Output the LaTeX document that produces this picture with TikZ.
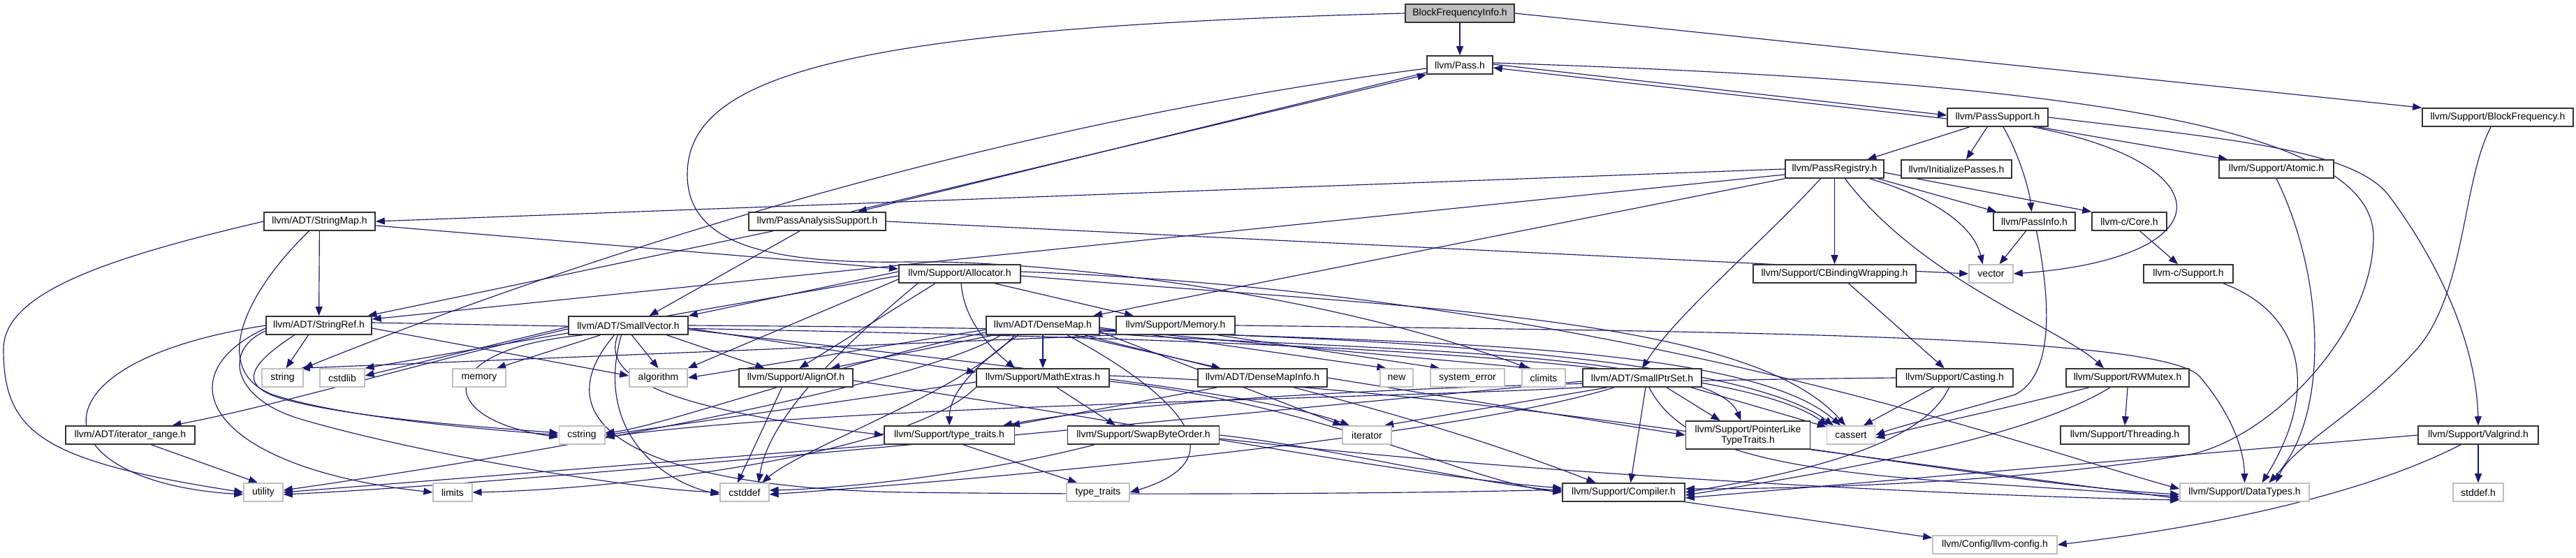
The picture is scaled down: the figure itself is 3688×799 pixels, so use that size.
\documentclass[tikz,border=0pt]{standalone}
\usepackage{fontspec}
\setmainfont{Liberation Sans}
\usetikzlibrary{arrows.meta,backgrounds}
\definecolor{edgec}{HTML}{191970}
\definecolor{sysc}{HTML}{BFBFBF}
\definecolor{boxc}{HTML}{333333}
\definecolor{rootc}{HTML}{BFBFBF}
\tikzset{
  box/.style={draw=boxc, fill=white, line width=1.6pt, minimum height=26pt, inner sep=0pt, font=\fontsize{14}{15}\selectfont},
  sys/.style={box, draw=sysc},
  root/.style={box, fill=rootc},
  e/.style={draw=edgec, line width=1.15pt, -{Triangle[length=13pt,width=10pt]}},
}
\begin{document}
\begin{tikzpicture}[x=1pt,y=-1pt]
\useasboundingbox (0,0) rectangle (3688,799);
% row 0-2
\node[root, minimum width=156] (bfi) at (2090,19) {BlockFrequencyInfo.h};
\node[box, minimum width=94] (pass) at (2090,93) {llvm/Pass.h};
\node[box, minimum width=144] (psup) at (2860,168) {llvm/PassSupport.h};
\node[box, minimum width=216] (bfreq) at (3576,168) {llvm/Support/BlockFrequency.h};
% row 3
\node[box, minimum width=141] (preg) at (2626.5,242) {llvm/PassRegistry.h};
\node[box, minimum width=158] (initp) at (2801,242) {llvm/InitializePasses.h};
\node[box, minimum width=163.5] (atomic) at (3259,242) {llvm/Support/Atomic.h};
% row 4
\node[box, minimum width=159] (smap) at (457.5,317) {llvm/ADT/StringMap.h};
\node[box, minimum width=196] (pas) at (1170,317) {llvm/PassAnalysisSupport.h};
\node[box, minimum width=117] (pinfo) at (2912.5,317) {llvm/PassInfo.h};
\node[box, minimum width=107] (ccore) at (3048.5,317) {llvm-c/Core.h};
% row 5
\node[box, minimum width=174.5] (alloc) at (1374,392) {llvm/Support/Allocator.h};
\node[sys, minimum width=63] (vector) at (2850.5,392) {vector};
\node[box, minimum width=233] (cbind) at (2626.5,392) {llvm/Support/CBindingWrapping.h};
\node[box, minimum width=127.5] (csup) at (3133,392) {llvm-c/Support.h};
% row 6
\node[box, minimum width=151] (sref) at (456.5,466) {llvm/ADT/StringRef.h};
\node[box, minimum width=171] (svec) at (899.5,466) {llvm/ADT/SmallVector.h};
\node[box, minimum width=162] (dmap) at (1493,466) {llvm/ADT/DenseMap.h};
\node[box, minimum width=169.5] (mem) at (1683,466) {llvm/Support/Memory.h};
% row 7
\node[sys, minimum width=59] (string) at (404.5,541) {string};
\node[sys, minimum width=63.5] (cstdlib) at (490,541) {cstdlib};
\node[sys, minimum width=76] (memory) at (686,541) {memory};
\node[sys, minimum width=83] (algorithm) at (942.5,541) {algorithm};
\node[box, minimum width=163] (alignof) at (1139.5,541) {llvm/Support/AlignOf.h};
\node[box, minimum width=190] (mathx) at (1493,541) {llvm/Support/MathExtras.h};
\node[box, minimum width=185] (dmi) at (1807.5,541) {llvm/ADT/DenseMapInfo.h};
\node[sys, minimum width=47] (new) at (1999.5,541) {new};
\node[sys, minimum width=106.5] (syserr) at (2101,541) {system\_error};
\node[sys, minimum width=62.5] (climits) at (2210,541) {climits};
\node[box, minimum width=170] (sps) at (2351,541) {llvm/ADT/SmallPtrSet.h};
\node[box, minimum width=167] (casting) at (2798.5,541) {llvm/Support/Casting.h};
\node[box, minimum width=176.5] (rwm) at (3046,541) {llvm/Support/RWMutex.h};
% row 8
\node[box, minimum width=185] (itr) at (186.5,623) {llvm/ADT/iterator\_range.h};
\node[sys, minimum width=65.4] (cstring) at (833,623) {cstring};
\node[box, minimum width=186.6] (tt) at (1359,623) {llvm/Support/type\_traits.h};
\node[box, minimum width=217] (sbo) at (1637,623) {llvm/Support/SwapByteOrder.h};
\node[sys, minimum width=70] (iterator) at (1957,623) {iterator};
\node[box, minimum width=178, minimum height=40, align=center] (plt) at (2502.5,623) {llvm/Support/PointerLike\\TypeTraits.h};
\node[sys, minimum width=69] (cassert) at (2650,623) {cassert};
\node[box, minimum width=184] (thr) at (3042,623) {llvm/Support/Threading.h};
\node[box, minimum width=172] (valg) at (3548,623) {llvm/Support/Valgrind.h};
% row 9
\node[sys, minimum width=56] (utility) at (377,705) {utility};
\node[sys, minimum width=55.5] (limits) at (648,705) {limits};
\node[sys, minimum width=69.5] (cstddef) at (1066,705) {cstddef};
\node[sys, minimum width=90] (stdtt) at (1572,705) {type\_traits};
\node[box, minimum width=175] (comp) at (2324.5,705) {llvm/Support/Compiler.h};
\node[sys, minimum width=185] (dtypes) at (3213.5,705) {llvm/Support/DataTypes.h};
\node[sys, minimum width=72.5] (stddef) at (3548,705) {stddef.h};
% row 10
\node[sys, minimum width=178] (config) at (2856,780) {llvm/Config/llvm-config.h};

\begin{scope}[on background layer]
% BlockFrequencyInfo
\draw[e] (bfi) -- (pass);
\draw[e] (bfi.east) -- (bfreq.north west);
\draw[e] (bfi.west) .. controls (1200,40) and (984,110) .. (984,250) .. controls (984,350) and (1100,378) .. (1300,375) .. controls (1500,372) and (1900,420) .. ([xshift=-22]climits.north);
% Pass
\draw[e] ([yshift=1]pass.east) -- ([yshift=3]psup.west);
\draw[e] ([yshift=-2]psup.west) -- ([yshift=-4]pass.east);
\draw[e] ([yshift=3]pass.south west) -- ([xshift=58]pas.north);
\draw[e] ([xshift=48]pas.north) -- (pass.south west);
\draw[e] ([yshift=-5]pass.west) .. controls (1400,180) and (800,380) .. (string.north east);
\draw[e] ([yshift=3]pass.east) .. controls (2900,115) and (3400,170) .. (3398,340) .. controls (3396,480) and (3250,625) .. (3139,650) .. controls (2900,690) and (2600,700) .. ([yshift=5]comp.east);
% PassSupport
\draw[e] ([xshift=-40]psup.south) -- ([xshift=47]preg.north);
\draw[e] ([xshift=-15]psup.south) -- ([xshift=14]initp.north);
\draw[e] ([xshift=8]psup.south) .. controls (2890,220) and (2905,270) .. ([xshift=-4]pinfo.north);
\draw[e] ([xshift=50]psup.south) .. controls (3190,235) and (3185,370) .. (vector.east);
\draw[e] ([xshift=58]psup.south) -- ([xshift=-70]atomic.north);
\draw[e] (psup.east) .. controls (3200,200) and (3370,215) .. (3420,280) .. controls (3480,360) and (3545,480) .. (valg.north);
% BlockFrequency, Atomic, llvm-c
\draw[e] ([xshift=-10]bfreq.south) .. controls (3525,260) and (3530,420) .. (3460,500) .. controls (3380,590) and (3280,640) .. ([xshift=45]dtypes.north);
\draw[e] (atomic.south) .. controls (3330,400) and (3335,600) .. ([xshift=35]dtypes.north);
\draw[e] ([xshift=50]csup.south) .. controls (3300,450) and (3320,560) .. ([xshift=25]dtypes.north);
\draw[e] ([xshift=15]ccore.south) -- ([xshift=-15]csup.north);
% PassRegistry
\draw[e] (preg.west) -- (smap.east);
\draw[e] ([yshift=-8]preg.west) -- ([yshift=9]sref.east);
\draw[e] (preg.south west) -- ([xshift=72]dmap.north);
\draw[e] ([xshift=-20]preg.south) .. controls (2520,350) and (2400,450) .. (sps.north);
\draw[e] (preg.south) -- (cbind.north);
\draw[e] ([xshift=15]preg.south) .. controls (2750,400) and (2950,470) .. ([xshift=-34]rwm.north);
\draw[e] ([xshift=50]preg.south) .. controls (2760,280) and (2825,320) .. ([xshift=-12]vector.north);
\draw[e] ([xshift=62]preg.south) -- ([xshift=5]pinfo.north west);
\draw[e] ([yshift=-5]preg.east) -- (ccore.north west);
% PassInfo
\draw[e] ([xshift=-12]pinfo.south) -- ([xshift=12]vector.north);
\draw[e] ([xshift=3]pinfo.south) .. controls (2940,450) and (2935,540) .. (2885,565) .. controls (2800,590) and (2720,610) .. (cassert.east);
% CBindingWrapping, Casting
\draw[e] ([xshift=20]cbind.south) -- ([xshift=-15]casting.north);
\draw[e] ([xshift=-30]casting.south) -- ([xshift=18]cassert.north);
\draw[e] ([xshift=-8]casting.south) .. controls (2760,620) and (2650,665) .. (comp.east);
\draw[e] (casting.west) .. controls (2300,545) and (1700,560) .. ([xshift=77]tt.north);
% RWMutex
\draw[e] (rwm.south) -- (thr.north);
\draw[e] ([xshift=-55]rwm.south) .. controls (2850,590) and (2750,610) .. ([yshift=-4]cassert.east);
\draw[e] ([xshift=-25]rwm.south) .. controls (2900,630) and (2600,680) .. ([yshift=-4]comp.east);
% Valgrind, Compiler
\draw[e] (valg.south) -- (stddef.north);
\draw[e] ([xshift=-25]valg.south) .. controls (3400,700) and (3200,750) .. (config.east);
\draw[e] (valg.west) -- ([yshift=-8]comp.east);
\draw[e] (comp.south east) -- ([yshift=10]config.west);
% StringMap
\draw[e] (smap) -- (sref);
\draw[e] ([yshift=-6]smap.east) -- ([yshift=7]alloc.west);
\draw[e] (smap.west) .. controls (150,370) and (5,420) .. (5,500) .. controls (5,620) and (60,660) .. (utility.west);
\draw[e] ([xshift=-15]smap.south) .. controls (350,420) and (300,530) .. (390,565) .. controls (500,600) and (700,615) .. (cstring.west);
% StringRef
\draw[e] ([xshift=-15]sref.south) -- ([xshift=5]string.north);
\draw[e] ([xshift=-35]sref.south) .. controls (360,520) and (330,555) .. (420,575) .. controls (520,600) and (700,612) .. ([yshift=3]cstring.west);
\draw[e] ([yshift=-4]sref.east) -- ([yshift=3]algorithm.west);
\draw[e] (sref.west) .. controls (30,520) and (60,690) .. ([yshift=-3]utility.west);
\draw[e] ([yshift=-4]sref.west) .. controls (230,540) and (300,670) .. (limits.west);
\draw[e] ([yshift=-8]sref.west) .. controls (320,500) and (330,570) .. (430,600) .. controls (600,650) and (900,700) .. (cstddef.west);
\draw[e] ([yshift=4]sref.east) .. controls (1500,480) and (2450,490) .. ([xshift=2]cassert.north west);
% PassAnalysisSupport
\draw[e] ([xshift=-25]pas.south) -- ([xshift=30]svec.north);
\draw[e] ([xshift=-63]pas.south) -- ([xshift=70]sref.north);
\draw[e] (pas.east) -- (vector.west);
% Allocator
\draw[e] ([yshift=3]alloc.west) -- (svec.north east);
\draw[e] ([yshift=-3]alloc.west) -- (cstdlib.north east);
\draw[e] ([yshift=-8]alloc.west) -- (algorithm.north east);
\draw[e] ([xshift=-35]alloc.south) -- ([xshift=5]alignof.north);
\draw[e] ([xshift=2]alloc.south) .. controls (1380,460) and (1420,500) .. ([xshift=-40]mathx.north);
\draw[e] ([xshift=50]alloc.south) -- ([xshift=-60]mem.north);
\draw[e] ([yshift=-3]alloc.east) .. controls (2000,440) and (2500,450) .. ([xshift=-8]cassert.north);
\draw[e] ([yshift=3]alloc.east) .. controls (2300,420) and (2900,640) .. ([yshift=5]dtypes.west);
\draw[e] ([xshift=-60]alloc.south) .. controls (1200,500) and (1100,600) .. ([xshift=20]cstddef.north);
% SmallVector
\draw[e] ([yshift=-5]svec.west) .. controls (600,520) and (400,580) .. ([xshift=60]itr.north);
\draw[e] ([xshift=-40]svec.south) -- ([xshift=25]memory.north);
\draw[e] ([xshift=5]svec.south) -- (algorithm.north);
\draw[e] ([xshift=55]svec.south) -- ([xshift=-45]alignof.north);
\draw[e] ([yshift=-4]svec.east) -- ([yshift=8]mathx.west);
\draw[e] ([xshift=-15]svec.south) .. controls (860,540) and (950,585) .. (tt.west);
\draw[e] ([xshift=-65]svec.south) .. controls (620,500) and (620,600) .. ([yshift=-3]cstring.west);
\draw[e] ([yshift=-2]svec.west) -- ([yshift=3]cstdlib.east);
\draw[e] ([xshift=-10]svec.south) .. controls (850,620) and (950,690) .. ([yshift=-3]cstddef.west);
\draw[e] (svec.east) .. controls (1600,470) and (2450,480) .. ([xshift=10]cassert.north west);
\draw[e] ([xshift=-20]svec.south) .. controls (760,620) and (950,700) .. (1300,705) .. controls (1700,710) and (2100,705) .. ([yshift=4]comp.west);
\draw[e] ([yshift=-6]svec.east) .. controls (1400,520) and (1800,560) .. ([xshift=-25]iterator.north);
% DenseMap
\draw[e] ([xshift=45]dmap.south) -- ([xshift=-60]dmi.north);
\draw[e] (dmap) -- (mathx);
\draw[e] ([xshift=-70]dmap.south) -- ([xshift=50]alignof.north);
\draw[e] ([yshift=-6]dmap.west) -- (algorithm.east);
\draw[e] ([xshift=-35]dmap.south) .. controls (1400,520) and (1360,560) .. (tt.north);
\draw[e] ([xshift=-40]dmap.south) .. controls (1380,560) and (1150,640) .. ([xshift=25]cstddef.north);
\draw[e] ([xshift=-60]dmap.south) .. controls (1300,560) and (700,660) .. ([yshift=3]utility.east);
\draw[e] ([yshift=-10]dmap.west) .. controls (1200,520) and (950,610) .. ([yshift=3]cstring.east);
\draw[e] ([xshift=35]dmap.south) .. controls (1640,540) and (1800,650) .. (stdtt.east);
\draw[e] ([yshift=-3]dmap.east) -- ([xshift=-15]new.north);
\draw[e] ([yshift=-5]dmap.east) -- ([xshift=-18]climits.north);
\draw[e] ([yshift=-9]dmap.east) -- (iterator.north west);
\draw[e] ([yshift=-11]dmap.east) .. controls (1900,500) and (2450,500) .. ([xshift=-10]plt.north);
\draw[e] ([yshift=-7]dmap.east) .. controls (2000,490) and (2500,490) .. ([xshift=-15]cassert.north);
\draw[e] ([xshift=60]dmap.south) .. controls (1700,520) and (2000,580) .. ([xshift=-40]comp.north);
% Memory
\draw[e] (mem.south west) -- ([xshift=-4]string.north east);
\draw[e] ([xshift=60]mem.south) -- ([xshift=-40]syserr.north);
\draw[e] (mem.east) .. controls (2500,475) and (3100,480) .. (3150,540) .. controls (3200,600) and (3213,650) .. (dtypes.north);
% AlignOf, MathExtras
\draw[e] ([xshift=-20]alignof.south) -- ([xshift=-10]cstddef.north);
\draw[e] ([yshift=-4]alignof.east) .. controls (1600,600) and (2000,680) .. ([yshift=6]comp.west);
\draw[e] ([xshift=20]mathx.south) -- ([xshift=-40]sbo.north);
\draw[e] ([yshift=-6]mathx.west) -- (cstring.east);
\draw[e] (mathx.south west) .. controls (1300,650) and (900,700) .. (limits.east);
\draw[e] ([yshift=-5]mathx.east) .. controls (1900,580) and (2100,690) .. (comp.west);
\draw[e] ([yshift=3]mathx.east) .. controls (2200,560) and (2800,690) .. ([yshift=-3]dtypes.west);
% DenseMapInfo
\draw[e] ([xshift=-65]dmi.south) -- ([xshift=88]tt.north);
\draw[e] (dmi.east) -- (plt.west);
% SmallPtrSet
\draw[e] ([xshift=5]sps.south) -- ([xshift=10]comp.north);
\draw[e] ([xshift=35]sps.south) -- ([xshift=-40]plt.north);
\draw[e] ([xshift=70]sps.south) -- ([yshift=-2]cassert.north west);
\draw[e] ([xshift=-50]sps.south) -- ([xshift=25]iterator.north);
\draw[e] ([xshift=-40]sps.south) .. controls (2100,620) and (1500,680) .. ([yshift=-3]cstddef.east);
\draw[e] (sps.south west) .. controls (2000,570) and (1200,580) .. ([yshift=-3]cstring.east);
\draw[e] ([yshift=-5]sps.west) .. controls (2000,570) and (800,690) .. ([yshift=-3]utility.east);
\draw[e] ([xshift=10]sps.south) .. controls (2400,630) and (2500,670) .. (2800,690) -- ([yshift=-6]dtypes.west);
% PointerLikeTypeTraits, type_traits, SwapByteOrder, iterator_range
\draw[e] (plt.south east) -- ([yshift=-9]dtypes.west);
\draw[e] ([xshift=20]tt.south) -- ([xshift=-30]stdtt.north);
\draw[e] (tt.south west) -- (utility.east);
\draw[e] (sbo.east) .. controls (1900,640) and (2100,690) .. ([yshift=2]comp.west);
\draw[e] ([yshift=-5]sbo.east) .. controls (2200,680) and (2800,710) .. ([yshift=-11]dtypes.west);
\draw[e] ([xshift=-70]sbo.south) .. controls (1400,680) and (1200,700) .. ([yshift=3]cstddef.east);
\draw[e] ([xshift=30]itr.south) -- ([xshift=-8]utility.north);
\end{scope}
\end{tikzpicture}
\end{document}
